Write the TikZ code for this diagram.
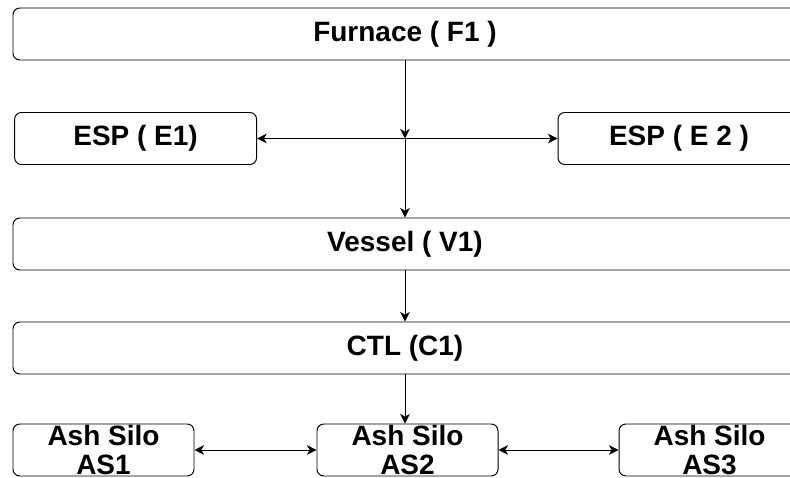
\documentclass[tikz,border=0pt]{standalone}
\usepackage{fontspec}
\setmainfont{Liberation Sans}
\usepackage{tikz}
\usetikzlibrary{arrows.meta}

\begin{document}
\begin{tikzpicture}[x=1cm,y=1cm,
    unitbox/.style={draw=black,line width=0.7pt,rounded corners=0.17cm,
      minimum height=1.3cm,inner sep=0pt,
      font=\fontsize{19.9}{20}\bfseries\selectfont},
    silobox/.style={unitbox,minimum width=4.525cm,align=center},
    flow/.style={draw=black,line width=0.7pt,
      -{Stealth[length=0.24cm,width=0.24cm,inset=0.07cm]}},
    flowboth/.style={flow,
      {Stealth[length=0.24cm,width=0.24cm,inset=0.07cm]}-{Stealth[length=0.24cm,width=0.24cm,inset=0.07cm]}}]
  \clip (0,0) rectangle (19.75,-11.925);
  % plant chain, top to bottom
  \node[unitbox,minimum width=19.6cm] (F1) at (10.125,-0.85) {Furnace ( F1 )};
  \node[unitbox,minimum width=6.05cm] (E1) at (3.39,-3.4625) {ESP ( E1)};
  \node[unitbox,minimum width=6.05cm] (E2) at (16.975,-3.4625) {ESP ( E 2 )};
  \node[unitbox,minimum width=19.6cm] (V1) at (10.125,-6.1) {Vessel ( V1)};
  \node[unitbox,minimum width=19.6cm] (C1) at (10.125,-8.7) {CTL (C1)};
  \node[silobox] (AS1) at (2.5875,-11.25) {Ash Silo\\AS1};
  \node[silobox] (AS2) at (10.1875,-11.25) {Ash Silo\\AS2};
  \node[silobox] (AS3) at (17.7375,-11.25) {Ash Silo\\AS3};
  \coordinate (J) at (F1.south |- E1.east);
  % connectors
  \draw[flow] (F1.south) -- (J);
  \draw[flowboth] (E1.east) -- (E2.west);
  \draw[flow] (J) -- (V1.north);
  \draw[flow] (V1.south) -- (C1.north);
  \draw[flow] (C1.south) -- (C1.south |- AS2.north);
  \draw[flowboth] (AS1.east) -- (AS2.west);
  \draw[flowboth] (AS2.east) -- (AS3.west);
\end{tikzpicture}
\end{document}
